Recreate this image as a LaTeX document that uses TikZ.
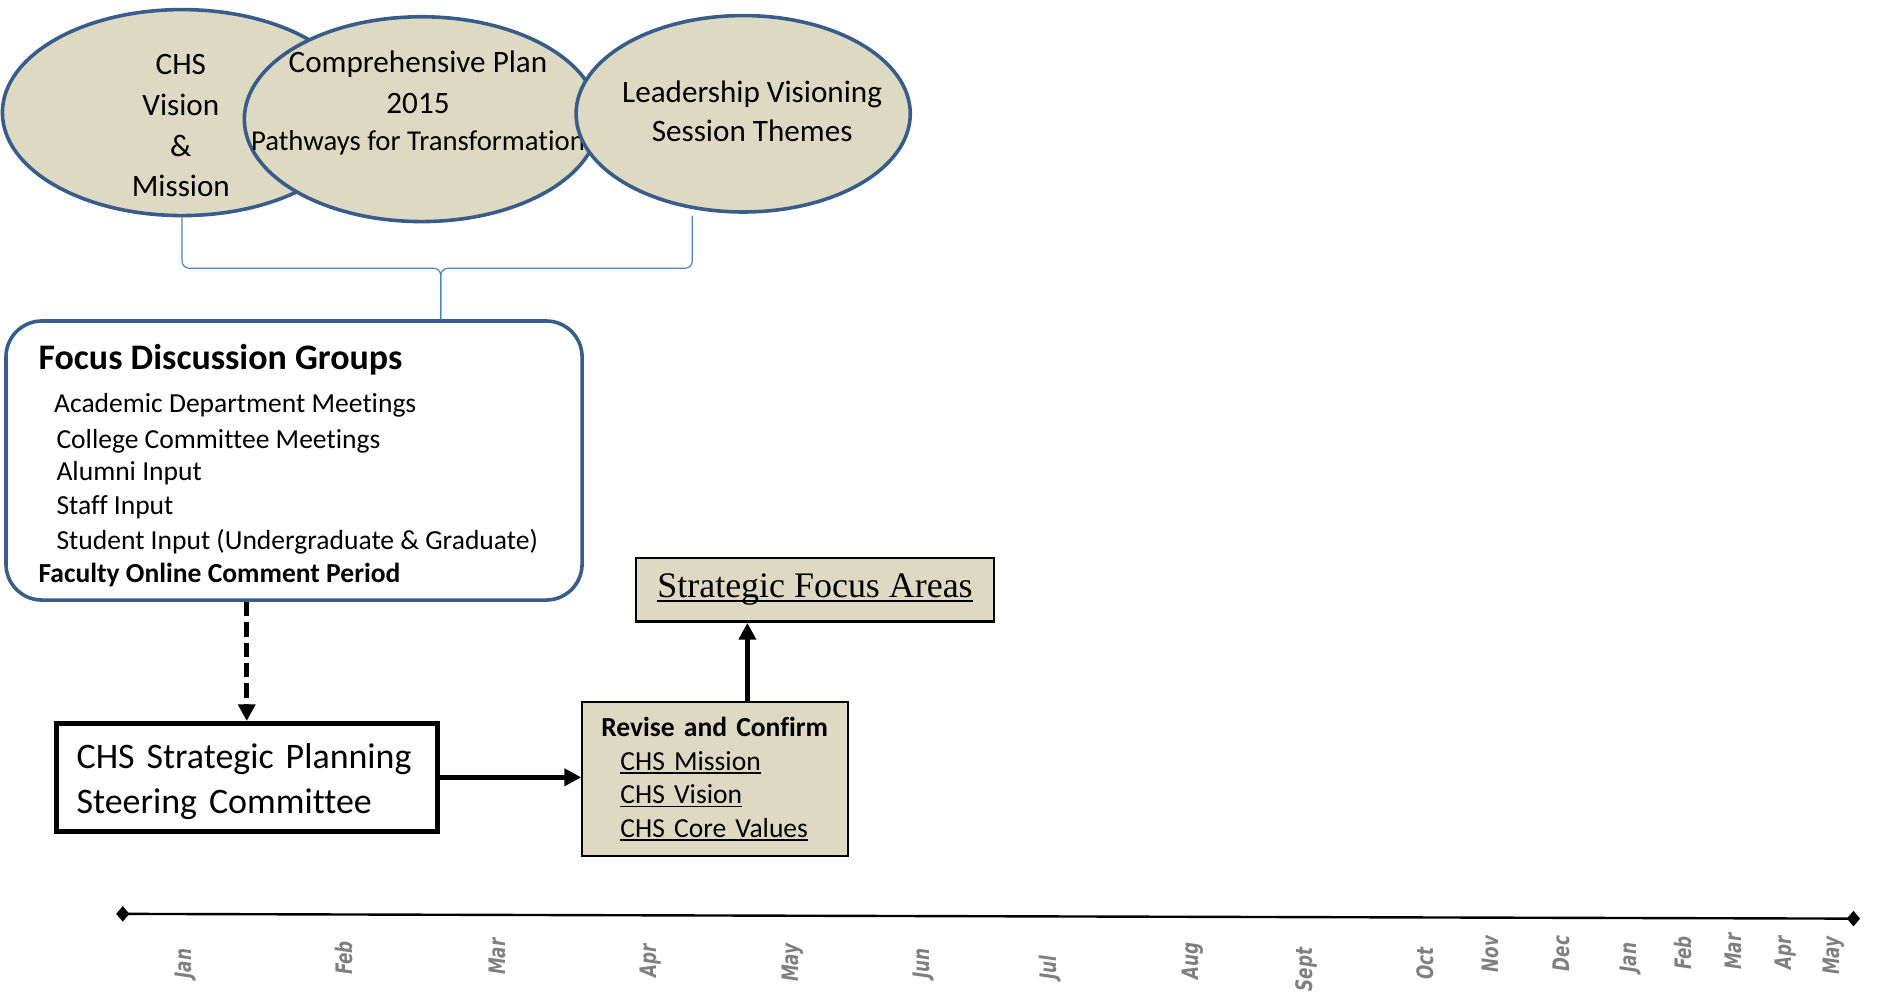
\documentclass[tikz,border=0pt]{standalone}
\usepackage{fontspec}
\setmainfont{Carlito}[Ligatures=NoCommon]
\newfontfamily\areafont{Liberation Serif}
\newfontfamily\monthfont{DejaVu Sans}
\usetikzlibrary{shapes.geometric,arrows.meta}

\definecolor{outlineblue}{HTML}{385D8A}
\definecolor{bracketblue}{HTML}{4F81BD}
\definecolor{tanfill}{HTML}{DDD9C3}
\definecolor{monthgray}{HTML}{7F7F7F}

\newcommand{\undl}[1]{\setbox0=\hbox{#1}\rlap{\rule[-0.12em]{\wd0}{0.06em}}\box0}
\newcommand{\fixspace}{\spaceskip=\fontdimen2\font\relax}

\begin{document}
\begin{tikzpicture}[x=1pt,y=-1pt,>={Triangle[length=14pt,width=14pt]}]
    \tikzstyle{bubble}=[ellipse,draw=outlineblue,fill=tanfill,line width=3pt,inner sep=0pt]
    \tikzstyle{bubbletext}=[align=center,inner sep=0pt,font=\fontsize{26}{34}\selectfont]
    \tikzstyle{item}=[anchor=west,inner sep=0pt,text height=0.75em,text depth=0.25em,font=\fontsize{23}{28}\selectfont]
    \tikzstyle{tanbox}=[rectangle,draw=black,fill=tanfill]
    \tikzstyle{month}=[rotate=90,xscale=0.74,anchor=west,inner sep=0pt,text=monthgray,font=\monthfont\bfseries\itshape\fontsize{19}{19}\selectfont]
    \tikzstyle{bracket}=[draw=bracketblue,line width=1pt,rounded corners=6pt]
    \tikzstyle{flow}=[->,line width=4pt]

    \useasboundingbox (0,0) rectangle (1568,832);

    % the three sources
    \node[bubble,minimum width=300pt,minimum height=172pt] (chs) at (152,94) {};
    \node[bubble,minimum width=296pt,minimum height=171pt] (plan) at (352,99.5) {};
    \node[bubbletext] (chstext) at (151,105) {CHS\\Vision\\\&\\Mission};
    \node[bubbletext] (plantext) at (349,86) {Comprehensive Plan\\2015\\[-3pt]{\fontsize{24}{28}\selectfont Pathways for Transformation}};
    \node[bubble,minimum width=279pt,minimum height=164pt] (lead) at (620.5,95) {};
    \node[bubbletext,font=\fontsize{26}{33}\selectfont] (leadtext) at (628,93) {Leadership Visioning\\Session Themes};

    % brace down to the groups
    \coordinate (rtop) at (578,180);
    \coordinate (cusp) at (368,224);
    \node[rectangle,rounded corners=30pt,draw=outlineblue,line width=3pt,fill=white,minimum width=481pt,minimum height=233pt] (focus) at (245.5,384.5) {};
    \draw[bracket] (chs.south) |- (cusp) -- (cusp |- focus.north);
    \draw[bracket] (rtop) |- (cusp) -- (cusp |- focus.north);

    \node[item,font=\fontsize{30}{36}\selectfont\bfseries] (fhead) at (32,306) {Focus Discussion Groups};
    \foreach \x/\y/\t [count=\i] in {45/342/Academic Department Meetings, 47/372/College Committee Meetings, 47/399/Alumni Input, 47/427/Staff Input, 47/456/Student Input (Undergraduate \& Graduate)}
        \node[item] (fitem\i) at (\x,\y) {\t};
    \node[item,font=\fontsize{23}{28}\selectfont\bfseries] (ffaculty) at (32,484) {Faculty Online Comment Period};

    % committee and outcomes
    \node[rectangle,draw=black,line width=4pt,minimum width=318pt,minimum height=90pt,text width=284pt,inner xsep=17pt,align=left,font=\fontsize{30}{37}\selectfont\fixspace] (steer) at (206,649) {\rule{0pt}{28pt}CHS Strategic Planning\\Steering Committee};
    \node[tanbox,line width=1.5pt,minimum height=129pt,text width=190pt,inner xsep=16pt,align=left,font=\fontsize{23}{28}\selectfont\fixspace] (revise) at (597,650.5) {\textbf{Revise and Confirm}\\\hspace*{16pt}\undl{CHS Mission}\\\hspace*{16pt}\undl{CHS Vision}\\\hspace*{16pt}\undl{CHS Core Values}};
    \node[tanbox,line width=2pt,minimum width=299pt,minimum height=53pt,font=\areafont\fontsize{30}{36}\selectfont] (sfa) at (680.5,492.5) {\undl{Strategic Focus Areas}};
    \coordinate (up) at (624,0);

    \draw[flow,dash pattern=on 12pt off 5pt] (focus.south -| steer.north) -- (steer.north);
    \draw[flow] (steer.east) -- (steer.east -| revise.west);
    \draw[flow] (revise.north -| up) -- (sfa.south -| up);

    % timeline
    \coordinate (tstart) at (97,763);
    \coordinate (tend) at (1553,767);
    \draw[line width=2pt,{Diamond[length=11pt,width=13pt]}-{Diamond[length=11pt,width=13pt]}] (tstart) -- (tend);
    \foreach \x/\y/\m [count=\i] in {155/817/Jan, 287/814/Feb, 415/814/Mar, 543/816/Apr, 662/820/May, 771/817/Jun, 877/818/Jul, 996/818/Aug, 1091/828/Sept, 1190/818/Oct, 1244/812/Nov, 1304/811/Dec, 1361/812/Jan, 1405/810/Feb, 1447/810/Mar, 1491/810/Apr, 1531/814/May}
        \node[month] (month\i) at (\x,\y) {\m};
\end{tikzpicture}
\end{document}
